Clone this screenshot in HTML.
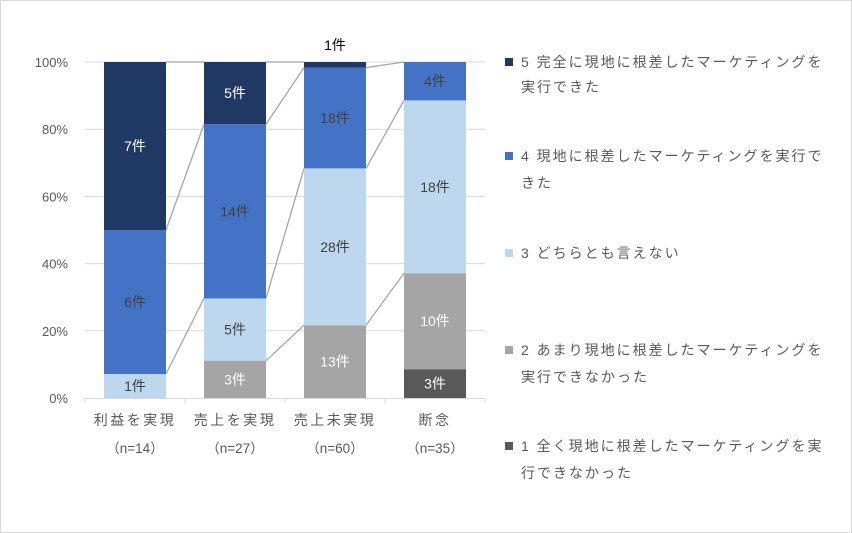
<!DOCTYPE html>
<html><head><meta charset="utf-8"><style>
body{margin:0;background:#fff}
svg{display:block;font-family:"Liberation Sans","Noto Sans CJK JP",sans-serif}
</style></head><body>
<svg id="c" width="852" height="533">
<rect x="0.5" y="0.5" width="851" height="532" fill="#fff" stroke="#d9d9d9"/>
</svg>
<script>
const categories=["利益を実現","売上を実現","売上未実現","断念"];
const nLabels=["（n=14）","（n=27）","（n=60）","（n=35）"];
const s1=[0,0,0,3];
const s2=[0,3,13,10];
const s3=[1,5,28,18];
const s4=[6,14,18,4];
const s5=[7,5,1,0];
const yTicks=[0,20,40,60,80,100];
const series=[s1,s2,s3,s4,s5];
const colors=["#595959","#a5a5a5","#bdd7ee","#4472c4","#203864"];
const labelColors=["#fff","#fff","#404040","#404040","#fff"];
const svg=document.getElementById('c');const NS="http://www.w3.org/2000/svg";
function mk(t,a,txt){const e=document.createElementNS(NS,t);for(const k in a)e.setAttribute(k,a[k]);if(txt!=null)e.textContent=txt;svg.appendChild(e);return e;}
const x0=85,x1=485,y0=398,y1=62;
const y=p=>y0-(y0-y1)*p/100;
const step=(x1-x0)/categories.length,bw=62;
const cx=i=>x0+step*(i+0.5);
yTicks.forEach(t=>{
 if(t>0){const g=mk('line',{x1:x0,x2:x1,y1:y(t),y2:y(t),stroke:'#d9d9d9','stroke-width':1});
 }
 const l=mk('text',{x:68,y:y(t)+5,'text-anchor':'end','font-size':13,fill:'#595959'},t+'%');
 
});
const ax=mk('line',{x1:x0,x2:x1,y1:y0+0.5,y2:y0+0.5,stroke:'#d9d9d9'});

for(let i=0;i<=categories.length;i++){const t=mk('line',{x1:x0+step*i,x2:x0+step*i,y1:y0,y2:y0+5,stroke:'#d9d9d9'});
}
const tops=categories.map((c,i)=>{const tot=series.reduce((a,s)=>a+s[i],0);let acc=0;return series.map(s=>{acc+=s[i];return acc/tot*100;});});
for(let i=0;i<categories.length-1;i++){for(let k=0;k<series.length;k++){
 if(!series[k][i]||!series[k][i+1])continue;
 const l=mk('line',{x1:cx(i)+bw/2,y1:y(tops[i][k]),x2:cx(i+1)-bw/2,y2:y(tops[i+1][k]),stroke:'#a5a5a5','stroke-width':1.3});
 }}
categories.forEach((c,i)=>{
 const tot=series.reduce((a,s)=>a+s[i],0);let acc=0;
 series.forEach((s,k)=>{const v=s[i];if(!v){return;}
  const b=acc/tot*100,t=(acc+v)/tot*100;acc+=v;
  const r=mk('rect',{x:cx(i)-bw/2,y:y(t),width:bw,height:y(b)-y(t),fill:colors[k]});
  
  const small=(y(b)-y(t))<14;
  const ly=small?y(t)-12:(y(t)+y(b))/2+5;
  const lt=mk('text',{x:cx(i),y:ly,'text-anchor':'middle','font-size':14,fill:small?'#000':labelColors[k]},v+'件');
  
 });
 const a=mk('text',{x:cx(i),y:425,'text-anchor':'middle','font-size':14,'letter-spacing':2.5,fill:'#595959'},c);
 
 const n=mk('text',{x:cx(i),y:453,'text-anchor':'middle','font-size':13.5,fill:'#595959'},nLabels[i]);
 
});
const legY=[[67,92],[161,188],[258],[355,382],[451,478]];
const legLines=[["5 完全に現地に根差したマーケティングを","実行できた"],["4 現地に根差したマーケティングを実行で","きた"],["3 どちらとも言えない"],["2 あまり現地に根差したマーケティングを","実行できなかった"],["1 全く現地に根差したマーケティングを実","行できなかった"]];
legY.forEach((ys,j)=>{const k=4-j;
 const sq=mk('rect',{x:505,y:ys[0]-9,width:8,height:8,fill:colors[k]});
 
 ys.forEach((yy,m)=>{const t=mk('text',{x:521,y:yy,'font-size':14,'letter-spacing':2,fill:'#595959'},legLines[j][m]);
  });
});
</script>
</body></html>
